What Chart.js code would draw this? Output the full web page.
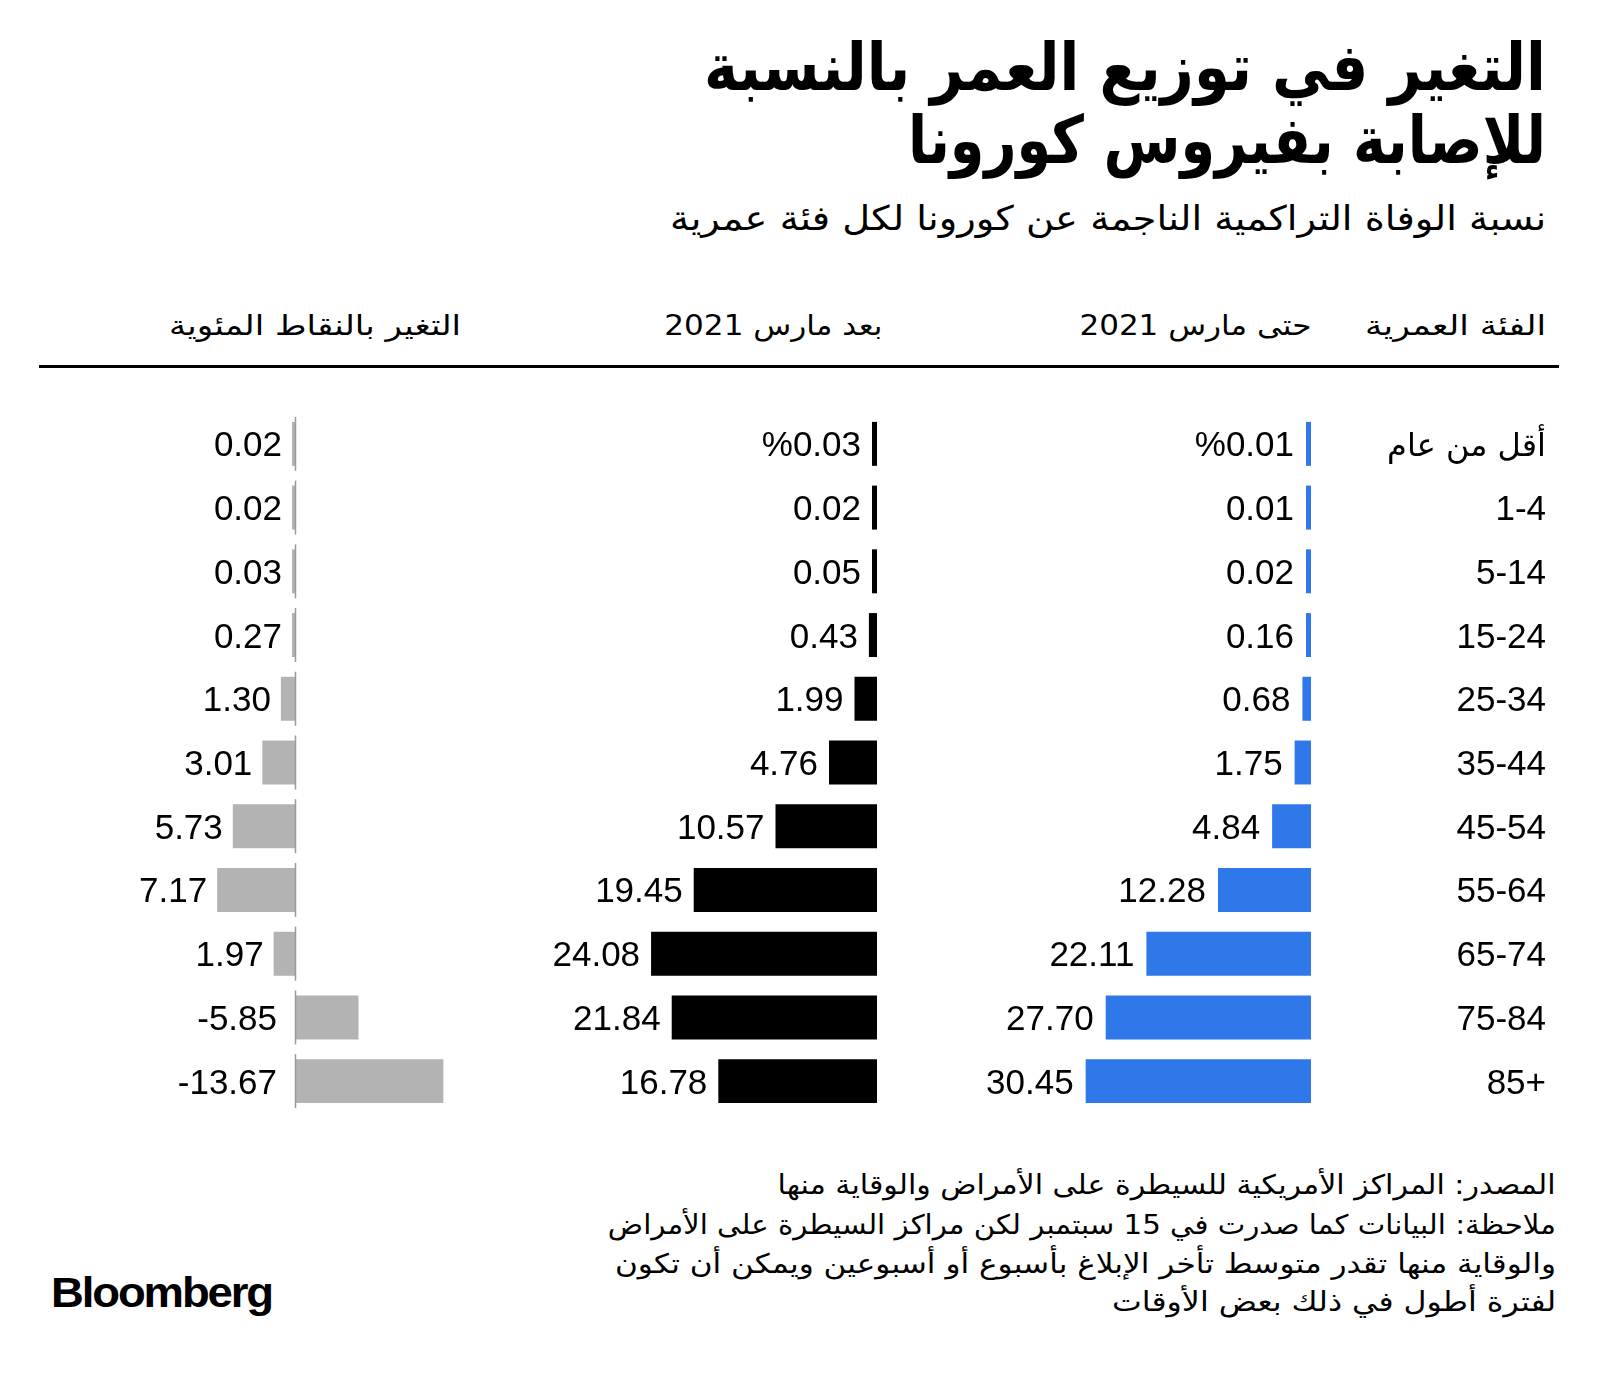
<!DOCTYPE html>
<html>
<head>
<meta charset="utf-8">
<script src="https://cdn.jsdelivr.net/npm/chart.js@4.4.1/dist/chart.umd.min.js"></script>
<style>
html,body{margin:0;padding:0;background:#fff;}
body{width:1600px;height:1373px;position:relative;overflow:hidden;font-family:"DejaVu Sans",sans-serif;color:#000;}
.t{position:absolute;white-space:nowrap;direction:rtl;line-height:1;transform-origin:100% 50%;}
.b{font-weight:bold;}
canvas{position:absolute;}
#rule{position:absolute;left:39px;width:1520px;top:365px;height:3px;background:#000;}
#logo{position:absolute;white-space:nowrap;line-height:1;font-family:"Liberation Sans",Arial,sans-serif;font-weight:bold;letter-spacing:-2px;transform-origin:0 50%;}
</style>
</head>
<body>
<div class="t b" data-f="66" data-b="91" data-r="1546" data-w="842">التغير في توزيع العمر بالنسبة</div>
<div class="t b" data-f="66" data-b="164" data-r="1546" data-w="638">للإصابة بفيروس كورونا</div>
<div class="t" data-f="34" data-b="230" data-r="1546" data-w="876">نسبة الوفاة التراكمية الناجمة عن كورونا لكل فئة عمرية</div>

<div class="t" data-f="28" data-b="336" data-r="1546" data-w="181">الفئة العمرية</div>
<div class="t" data-f="28" data-b="336" data-r="1311" data-w="232">حتى مارس 2021</div>
<div class="t" data-f="28" data-b="336" data-r="882" data-w="218">بعد مارس 2021</div>
<div class="t" data-f="28" data-b="336" data-r="461" data-w="292">التغير بالنقاط المئوية</div>
<div id="rule"></div>

<canvas id="cBlue" width="620" height="730" style="left:940px;top:400px;"></canvas>
<canvas id="cBlack" width="345" height="730" style="left:540px;top:400px;"></canvas>
<canvas id="cGray" width="330" height="730" style="left:130px;top:400px;"></canvas>

<div class="t" data-f="27" data-b="1194" data-r="1556" data-w="778">المصدر: المراكز الأمريكية للسيطرة على الأمراض والوقاية منها</div>
<div class="t" data-f="27" data-b="1234" data-r="1556" data-w="948">ملاحظة: البيانات كما صدرت في 15 سبتمبر لكن مراكز السيطرة على الأمراض</div>
<div class="t" data-f="27" data-b="1273" data-r="1556" data-w="941">والوقاية منها تقدر متوسط تأخر الإبلاغ بأسبوع أو أسبوعين ويمكن أن تكون</div>
<div class="t" data-f="27" data-b="1311" data-r="1556" data-w="444">لفترة أطول في ذلك بعض الأوقات</div>
<div id="logo">Bloomberg</div>

<script>
// ---- data ----
const ageGroups = ['أقل من عام','1-4','5-14','15-24','25-34','35-44','45-54','55-64','65-74','75-84','85+'];
const beforeMarch2021 = [0.01,0.01,0.02,0.16,0.68,1.75,4.84,12.28,22.11,27.70,30.45];
const afterMarch2021  = [0.03,0.02,0.05,0.43,1.99,4.76,10.57,19.45,24.08,21.84,16.78];
const changePoints    = [0.02,0.02,0.03,0.27,1.30,3.01,5.73,7.17,1.97,-5.85,-13.67];

// ---- text layout (fit widths, place by baseline) ----
function layoutText(){
  document.querySelectorAll('.t').forEach(el=>{
    const f=+el.dataset.f, b=+el.dataset.b, r=+el.dataset.r, w=+el.dataset.w;
    el.style.fontSize=f+'px';
    el.style.right=(1600-r)+'px';
    el.style.top=(b-0.846*f)+'px';
    const mw=el.getBoundingClientRect().width;
    el.style.transform='scaleX('+(w/mw)+')';
  });
  const logo=document.getElementById('logo');
  logo.style.fontSize='43px';
  logo.style.left='51px';
  logo.style.top=(1310-0.905*43)+'px';
  const lw=logo.getBoundingClientRect().width;
  logo.style.transform='scaleX('+(221/lw)+')';
}

const NUM_FONT='35px "Liberation Sans", Arial, sans-serif';
function fmt(v,i,pct){ const s=v.toFixed(2); return (pct && i===0) ? '%'+s : s; }

const valueLabels={
  id:'valueLabels',
  afterDatasetsDraw(chart,args,o){
    const ctx=chart.ctx, meta=chart.getDatasetMeta(0), data=chart.data.datasets[0].data;
    ctx.save();
    ctx.font=NUM_FONT; ctx.fillStyle='#000'; ctx.textAlign='right'; ctx.textBaseline='alphabetic'; ctx.direction='ltr';
    meta.data.forEach((bar,i)=>{
      const v=data[i];
      const x = v<0 ? bar.base-o.negGap : Math.min(bar.x,bar.base)-o.gap;
      ctx.fillText(fmt(v,i,o.pct),x,bar.y+12.5);
    });
    if(o.categories){
      const ys=chart.scales.y;
      chart.data.labels.forEach((lab,i)=>{
        const y=ys.getPixelForValue(i);
        ctx.font = /[\u0600-\u06FF]/.test(lab) ? '32px "DejaVu Sans", sans-serif' : NUM_FONT;
        ctx.fillText(lab,chart.width-14,y+12.5);
      });
    }
    ctx.restore();
  }
};

const zeroLine={
  id:'zeroLine',
  afterDatasetsDraw(chart,args,o){
    if(!o.show) return;
    const ctx=chart.ctx, x=Math.round(chart.scales.x.getPixelForValue(0))+0.5, ys=chart.scales.y;
    ctx.save(); ctx.strokeStyle=o.color; ctx.lineWidth=1.5;
    chart.data.labels.forEach((l,i)=>{
      const y=ys.getPixelForValue(i);
      ctx.beginPath(); ctx.moveTo(x,y-27); ctx.lineTo(x,y+27); ctx.stroke();
    });
    ctx.restore();
  }
};

function makeChart(id,values,color,cfg){
  const ds={data:values,backgroundColor:color,borderWidth:0,
      barPercentage:0.69,categoryPercentage:1,minBarLength:cfg.minBar};
  if(cfg.base!==undefined) ds.base=cfg.base;
  return new Chart(document.getElementById(id),{
    type:'bar',
    data:{labels:ageGroups,datasets:[ds]},
    options:{
      indexAxis:'y',responsive:false,maintainAspectRatio:false,animation:false,
      layout:{padding:{top:12,bottom:17,left:0,right:cfg.padR}},
      scales:{
        x:{type:'linear',reverse:true,min:cfg.min,max:cfg.max,display:false,grid:{display:false}},
        y:{display:false,grid:{display:false}}
      },
      plugins:{legend:{display:false},tooltip:{enabled:false},
        valueLabels:{gap:cfg.gap,negGap:cfg.negGap||cfg.gap,pct:cfg.pct,categories:cfg.categories},
        zeroLine:{show:!!cfg.zeroLine,color:'#9a9a9a'}}
    },
    plugins:[valueLabels,zeroLine]
  });
}

function draw(){
  layoutText();
  makeChart('cBlue',beforeMarch2021,'#2f78ea',{min:-0.5,max:50.46,base:-0.5,padR:249,gap:12,pct:true,categories:true,minBar:5});
  makeChart('cBlack',afterMarch2021,'#000000',{min:-0.45,max:36.14,base:-0.45,padR:8,gap:11,pct:true,minBar:5});
  makeChart('cGray',changePoints,'#b3b3b3',{min:-15.2,max:15.2,padR:0,gap:10,negGap:18,pct:false,minBar:3,zeroLine:true});
}
if(document.fonts && document.fonts.ready){document.fonts.ready.then(draw);}else{window.onload=draw;}
</script>
</body>
</html>
